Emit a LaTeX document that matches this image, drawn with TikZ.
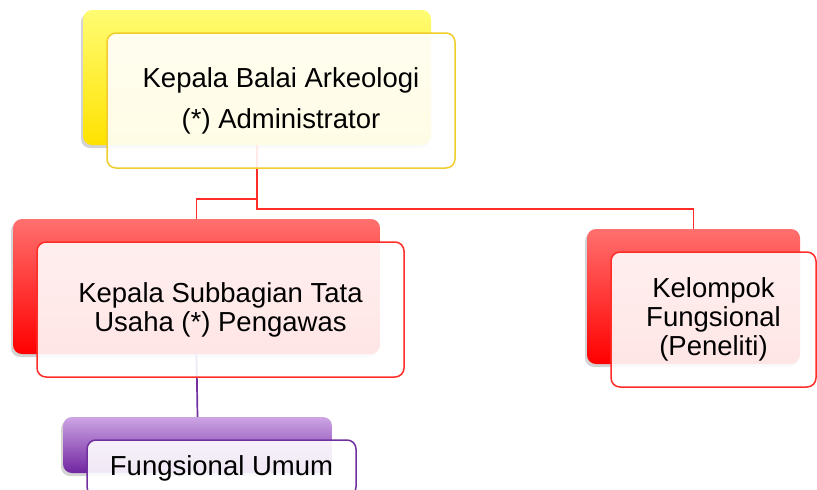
\documentclass[tikz,border=0pt]{standalone}
\usepackage{fontspec}
\setmainfont{Liberation Sans}
\usetikzlibrary{positioning,shadows}
\definecolor{goldtop}{RGB}{255, 252, 115}
\definecolor{goldbot}{RGB}{255, 226, 0}
\definecolor{goldline}{RGB}{240, 205, 45}
\definecolor{redtop}{RGB}{255, 112, 110}
\definecolor{redbot}{RGB}{255, 0, 0}
\definecolor{redline}{RGB}{255, 45, 40}
\definecolor{lilactop}{RGB}{205, 165, 228}
\definecolor{lilacbot}{RGB}{112, 36, 160}
\definecolor{lilacline}{RGB}{112, 48, 160}

\begin{document}
\begin{tikzpicture}[x=1pt,y=-1pt,
    backbox/.style={rounded corners=9pt, inner sep=0pt,
        drop shadow={shadow xshift=-2pt, shadow yshift=-3pt, opacity=0.35}},
    frontbox/.style={draw, line width=1.5pt, rounded corners=9pt,
        fill=white, fill opacity=0.9, text opacity=1, inner sep=0pt,
        align=center, font=\fontsize{27.5pt}{29pt}\selectfont},
    link/.style={line width=1.7pt}]
\useasboundingbox (0,0) rectangle (817,490);

% Back boxes with colour shading
\node[backbox, minimum width=348pt, minimum height=135pt,
      top color=goldtop, bottom color=goldbot] (balaiB) at (257,77.5) {};
\node[backbox, minimum width=367pt, minimum height=135pt,
      top color=redtop, bottom color=redbot] (subbagB) at (196.5,286.5) {};
\node[backbox, minimum width=213pt, minimum height=135pt,
      top color=redtop, bottom color=redbot] (kelompokB) at (693.5,296.5) {};
\node[backbox, minimum width=269pt, minimum height=56pt,
      top color=lilactop, bottom color=lilacbot] (umumB) at (197.5,445) {};

% Links between the levels
\draw[link, redline] (balaiB.south) |- ([yshift=20pt]subbagB.north) -- (subbagB.north);
\draw[link, redline] (balaiB.south) |- ([yshift=20pt]kelompokB.north) -- (kelompokB.north);
\draw[link, lilacline] (subbagB.south) -- (umumB.north);

% Front boxes with the texts
\node[frontbox, draw=goldline, minimum width=348pt, minimum height=135pt]
    (balai) at ([xshift=24pt,yshift=-23pt]balaiB.center)
    {Kepala Balai Arkeologi\\[12pt](*) Administrator};
\node[frontbox, draw=redline, minimum width=367pt, minimum height=135pt]
    (subbag) at ([xshift=24pt,yshift=-23pt]subbagB.center)
    {Kepala Subbagian Tata\\Usaha (*) Pengawas};
\node[frontbox, draw=redline, minimum width=205pt, minimum height=135pt]
    (kelompok) at ([xshift=20pt,yshift=-23pt]kelompokB.center)
    {Kelompok\\Fungsional\\(Peneliti)};
\node[frontbox, draw=lilacline, minimum width=269pt, minimum height=56pt]
    (umum) at ([xshift=24pt,yshift=-23pt]umumB.center)
    {Fungsional Umum};
\end{tikzpicture}
\end{document}
